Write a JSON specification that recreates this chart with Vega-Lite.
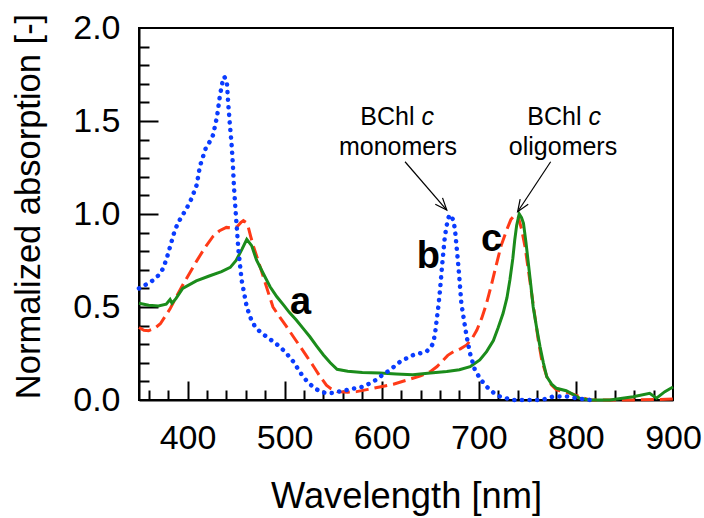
{
  "$schema": "https://vega.github.io/schema/vega-lite/v6.json",
  "width": 534,
  "height": 372,
  "autosize": {"type": "none"},
  "padding": {"left": 139, "top": 28, "right": 31, "bottom": 118},
  "background": "white",
  "config": {
    "view": {"stroke": "black", "strokeWidth": 2},
    "axis": {
      "labelFont": "Liberation Sans",
      "labelFontSize": 34,
      "labelColor": "black",
      "titleFont": "Liberation Sans",
      "titleFontWeight": "normal",
      "titleColor": "black",
      "domainColor": "black",
      "domainWidth": 2,
      "tickColor": "black",
      "tickWidth": 2,
      "grid": false,
      "labelOverlap": false,
      "labelFlush": false
    }
  },
  "datasets": {
    "spectra": [
      {"s":"a","wl":350,"v":0.52},{"s":"a","wl":360,"v":0.51},{"s":"a","wl":370,"v":0.505},{"s":"a","wl":378,"v":0.515},{"s":"a","wl":382,"v":0.54},{"s":"a","wl":384,"v":0.52},{"s":"a","wl":388,"v":0.545},{"s":"a","wl":395,"v":0.6},{"s":"a","wl":409,"v":0.64},{"s":"a","wl":423,"v":0.668},{"s":"a","wl":435,"v":0.69},{"s":"a","wl":444,"v":0.713},{"s":"a","wl":450,"v":0.75},{"s":"a","wl":456,"v":0.81},{"s":"a","wl":461,"v":0.864},{"s":"a","wl":466,"v":0.83},{"s":"a","wl":471,"v":0.753},{"s":"a","wl":478,"v":0.68},{"s":"a","wl":485,"v":0.609},{"s":"a","wl":492,"v":0.555},{"s":"a","wl":499,"v":0.51},{"s":"a","wl":505,"v":0.47},{"s":"a","wl":512,"v":0.43},{"s":"a","wl":519,"v":0.385},{"s":"a","wl":526,"v":0.34},{"s":"a","wl":533,"v":0.29},{"s":"a","wl":540,"v":0.242},{"s":"a","wl":547,"v":0.2},{"s":"a","wl":554,"v":0.165},{"s":"a","wl":565,"v":0.155},{"s":"a","wl":580,"v":0.148},{"s":"a","wl":598,"v":0.145},{"s":"a","wl":615,"v":0.14},{"s":"a","wl":632,"v":0.136},{"s":"a","wl":650,"v":0.145},{"s":"a","wl":667,"v":0.153},{"s":"a","wl":680,"v":0.163},{"s":"a","wl":691,"v":0.179},{"s":"a","wl":701,"v":0.215},{"s":"a","wl":708,"v":0.26},{"s":"a","wl":715,"v":0.32},{"s":"a","wl":720,"v":0.39},{"s":"a","wl":725,"v":0.466},{"s":"a","wl":729,"v":0.55},{"s":"a","wl":732,"v":0.645},{"s":"a","wl":735,"v":0.76},{"s":"a","wl":737,"v":0.86},{"s":"a","wl":739,"v":0.94},{"s":"a","wl":741.6,"v":1.0},{"s":"a","wl":744,"v":0.98},{"s":"a","wl":746,"v":0.95},{"s":"a","wl":748.5,"v":0.85},{"s":"a","wl":751,"v":0.735},{"s":"a","wl":753.5,"v":0.62},{"s":"a","wl":756,"v":0.5},{"s":"a","wl":759.5,"v":0.39},{"s":"a","wl":763,"v":0.287},{"s":"a","wl":766.5,"v":0.2},{"s":"a","wl":770,"v":0.125},{"s":"a","wl":775,"v":0.085},{"s":"a","wl":780,"v":0.063},{"s":"a","wl":790,"v":0.05},{"s":"a","wl":797,"v":0.03},{"s":"a","wl":804,"v":0.009},{"s":"a","wl":814,"v":0},{"s":"a","wl":835,"v":0},{"s":"a","wl":859,"v":0.018},{"s":"a","wl":876,"v":0.036},{"s":"a","wl":883,"v":0.01},{"s":"a","wl":891.6,"v":0.045},{"s":"a","wl":900,"v":0.07},

      {"s":"c","wl":350,"v":0.39},{"s":"c","wl":355,"v":0.375},{"s":"c","wl":360,"v":0.373},{"s":"c","wl":366,"v":0.385},{"s":"c","wl":372,"v":0.41},{"s":"c","wl":377,"v":0.45},{"s":"c","wl":382,"v":0.49},{"s":"c","wl":389,"v":0.56},{"s":"c","wl":396,"v":0.627},{"s":"c","wl":403,"v":0.69},{"s":"c","wl":409,"v":0.744},{"s":"c","wl":418,"v":0.82},{"s":"c","wl":426,"v":0.878},{"s":"c","wl":433,"v":0.91},{"s":"c","wl":440,"v":0.928},{"s":"c","wl":446,"v":0.925},{"s":"c","wl":451,"v":0.932},{"s":"c","wl":455,"v":0.955},{"s":"c","wl":457.5,"v":0.964},{"s":"c","wl":460,"v":0.955},{"s":"c","wl":462.5,"v":0.93},{"s":"c","wl":465,"v":0.88},{"s":"c","wl":468,"v":0.824},{"s":"c","wl":473,"v":0.745},{"s":"c","wl":478,"v":0.663},{"s":"c","wl":483,"v":0.58},{"s":"c","wl":488,"v":0.5},{"s":"c","wl":495,"v":0.445},{"s":"c","wl":502,"v":0.394},{"s":"c","wl":509,"v":0.34},{"s":"c","wl":516,"v":0.287},{"s":"c","wl":523,"v":0.233},{"s":"c","wl":530,"v":0.179},{"s":"c","wl":536,"v":0.13},{"s":"c","wl":543,"v":0.08},{"s":"c","wl":548,"v":0.06},{"s":"c","wl":554,"v":0.045},{"s":"c","wl":565,"v":0.042},{"s":"c","wl":574,"v":0.045},{"s":"c","wl":586,"v":0.057},{"s":"c","wl":598,"v":0.07},{"s":"c","wl":612,"v":0.085},{"s":"c","wl":626,"v":0.107},{"s":"c","wl":640,"v":0.13},{"s":"c","wl":650,"v":0.152},{"s":"c","wl":657,"v":0.18},{"s":"c","wl":663.5,"v":0.215},{"s":"c","wl":668,"v":0.24},{"s":"c","wl":674,"v":0.26},{"s":"c","wl":681,"v":0.275},{"s":"c","wl":687.5,"v":0.296},{"s":"c","wl":693,"v":0.33},{"s":"c","wl":698,"v":0.376},{"s":"c","wl":703,"v":0.44},{"s":"c","wl":708,"v":0.52},{"s":"c","wl":713,"v":0.62},{"s":"c","wl":718.4,"v":0.735},{"s":"c","wl":723,"v":0.83},{"s":"c","wl":728.7,"v":0.914},{"s":"c","wl":733,"v":0.97},{"s":"c","wl":737,"v":0.995},{"s":"c","wl":740.5,"v":0.985},{"s":"c","wl":744,"v":0.92},{"s":"c","wl":747.6,"v":0.824},{"s":"c","wl":751,"v":0.7},{"s":"c","wl":754.4,"v":0.573},{"s":"c","wl":758,"v":0.44},{"s":"c","wl":761.3,"v":0.32},{"s":"c","wl":765,"v":0.21},{"s":"c","wl":770,"v":0.125},{"s":"c","wl":775,"v":0.08},{"s":"c","wl":780,"v":0.054},{"s":"c","wl":787,"v":0.045},{"s":"c","wl":794,"v":0.036},{"s":"c","wl":804,"v":0.018},{"s":"c","wl":814,"v":0},{"s":"c","wl":860,"v":0},{"s":"c","wl":900,"v":0.005},

      {"s":"b","wl":350,"v":0.6},{"s":"b","wl":352.7,"v":0.61},{"s":"b","wl":359,"v":0.625},{"s":"b","wl":364.7,"v":0.645},{"s":"b","wl":370,"v":0.67},{"s":"b","wl":375,"v":0.708},{"s":"b","wl":379,"v":0.77},{"s":"b","wl":382,"v":0.824},{"s":"b","wl":387,"v":0.914},{"s":"b","wl":391,"v":0.96},{"s":"b","wl":395.6,"v":1.0},{"s":"b","wl":400,"v":1.04},{"s":"b","wl":404.3,"v":1.085},{"s":"b","wl":409.4,"v":1.156},{"s":"b","wl":412.8,"v":1.258},{"s":"b","wl":418.7,"v":1.353},{"s":"b","wl":423,"v":1.39},{"s":"b","wl":426.4,"v":1.426},{"s":"b","wl":430.5,"v":1.528},{"s":"b","wl":433.4,"v":1.638},{"s":"b","wl":436,"v":1.71},{"s":"b","wl":437.8,"v":1.738},{"s":"b","wl":440,"v":1.72},{"s":"b","wl":440.6,"v":1.7},{"s":"b","wl":442,"v":1.586},{"s":"b","wl":443.7,"v":1.475},{"s":"b","wl":445.5,"v":1.366},{"s":"b","wl":446.8,"v":1.254},{"s":"b","wl":447.8,"v":1.147},{"s":"b","wl":449.9,"v":0.985},{"s":"b","wl":452.4,"v":0.806},{"s":"b","wl":455.7,"v":0.645},{"s":"b","wl":461,"v":0.5},{"s":"b","wl":465,"v":0.44},{"s":"b","wl":469.5,"v":0.394},{"s":"b","wl":475,"v":0.365},{"s":"b","wl":481.6,"v":0.34},{"s":"b","wl":488,"v":0.315},{"s":"b","wl":495,"v":0.287},{"s":"b","wl":502,"v":0.25},{"s":"b","wl":509,"v":0.206},{"s":"b","wl":514,"v":0.165},{"s":"b","wl":519,"v":0.125},{"s":"b","wl":525,"v":0.09},{"s":"b","wl":531,"v":0.063},{"s":"b","wl":537,"v":0.045},{"s":"b","wl":543,"v":0.036},{"s":"b","wl":550,"v":0.038},{"s":"b","wl":560,"v":0.05},{"s":"b","wl":570,"v":0.06},{"s":"b","wl":581,"v":0.072},{"s":"b","wl":590,"v":0.095},{"s":"b","wl":595,"v":0.111},{"s":"b","wl":602,"v":0.14},{"s":"b","wl":608.5,"v":0.161},{"s":"b","wl":614,"v":0.185},{"s":"b","wl":619,"v":0.206},{"s":"b","wl":626,"v":0.225},{"s":"b","wl":632.5,"v":0.242},{"s":"b","wl":640,"v":0.252},{"s":"b","wl":646,"v":0.26},{"s":"b","wl":650,"v":0.28},{"s":"b","wl":653,"v":0.305},{"s":"b","wl":655,"v":0.36},{"s":"b","wl":656.6,"v":0.43},{"s":"b","wl":658.5,"v":0.51},{"s":"b","wl":660,"v":0.59},{"s":"b","wl":661.5,"v":0.68},{"s":"b","wl":662.7,"v":0.753},{"s":"b","wl":665,"v":0.878},{"s":"b","wl":667,"v":0.94},{"s":"b","wl":668.5,"v":0.977},{"s":"b","wl":670,"v":0.995},{"s":"b","wl":672,"v":0.989},{"s":"b","wl":674,"v":0.96},{"s":"b","wl":675.5,"v":0.914},{"s":"b","wl":677,"v":0.83},{"s":"b","wl":679,"v":0.717},{"s":"b","wl":680.5,"v":0.62},{"s":"b","wl":682,"v":0.52},{"s":"b","wl":685,"v":0.42},{"s":"b","wl":687.5,"v":0.34},{"s":"b","wl":691,"v":0.25},{"s":"b","wl":696,"v":0.161},{"s":"b","wl":702,"v":0.11},{"s":"b","wl":708,"v":0.072},{"s":"b","wl":715,"v":0.04},{"s":"b","wl":722,"v":0.018},{"s":"b","wl":735,"v":0},{"s":"b","wl":765,"v":0},{"s":"b","wl":776,"v":0.018},{"s":"b","wl":790,"v":0.02},{"s":"b","wl":800,"v":0.01},{"s":"b","wl":815,"v":0}
    ],
    "letters": [
      {"t":"a","wl":516.5,"v":0.52},
      {"t":"b","wl":648,"v":0.77},
      {"t":"c","wl":713,"v":0.86}
    ],
    "bchl": [
      {"t":"BChl","wl":636.9,"v":1.478},
      {"t":"BChl","wl":808.9,"v":1.478}
    ],
    "italic": [
      {"t":"c","wl":636.9,"v":1.478},
      {"t":"c","wl":808.9,"v":1.478}
    ],
    "words": [
      {"t":"monomers","wl":616.8,"v":1.317},
      {"t":"oligomers","wl":786.7,"v":1.317}
    ],
    "arrows": [
      {"name":"monomers","wl":624,"v":1.281,"wl2":667,"v2":1.021},
      {"name":"oligomers","wl":774,"v":1.281,"wl2":740,"v2":1.012}
    ]
  },
  "resolve": {"axis": {"x": "independent", "y": "independent"}},
  "layer": [
    {
      "encoding": {
        "x": {
          "field": "wl", "type": "quantitative",
          "scale": {"domain": [350, 900], "nice": false, "zero": false},
          "axis": {
            "orient": "bottom",
            "title": "Wavelength [nm]",
            "titleFontSize": 36.3,
            "values": [400, 500, 600, 700, 800, 900],
            "ticks": false,
            "labelPadding": 21,
            "titlePadding": 23
          }
        },
        "y": {
          "field": "v", "type": "quantitative",
          "scale": {"domain": [0, 2], "nice": false},
          "axis": {
            "orient": "left",
            "title": "Normalized absorption [-]",
            "titleFontSize": 34.5,
            "titleY": 178,
            "values": [0, 0.5, 1.0, 1.5, 2.0],
            "format": ".1f",
            "ticks": false,
            "labelPadding": 19,
            "titlePadding": 26
          }
        }
      },
      "layer": [
        {
          "data": {"name": "spectra"},
          "transform": [{"filter": "datum.s === 'c'"}],
          "mark": {"type": "line", "color": "#ff3a17", "strokeWidth": 3, "strokeDash": [13, 6]}
        },
        {
          "data": {"name": "spectra"},
          "transform": [{"filter": "datum.s === 'a'"}],
          "mark": {"type": "line", "color": "#1b8c1b", "strokeWidth": 3}
        },
        {
          "data": {"name": "spectra"},
          "transform": [{"filter": "datum.s === 'b'"}],
          "mark": {"type": "line", "color": "#0a3cff", "strokeWidth": 4.5, "strokeDash": [0.1, 7.5], "strokeCap": "round"}
        },
        {
          "data": {"name": "letters"},
          "mark": {"type": "text", "font": "Liberation Sans", "fontSize": 38, "fontWeight": "bold", "baseline": "middle", "align": "center", "color": "black"},
          "encoding": {"text": {"field": "t"}}
        },
        {
          "data": {"name": "bchl"},
          "mark": {"type": "text", "font": "Liberation Sans", "fontSize": 25, "baseline": "alphabetic", "align": "right", "dx": -3, "color": "black"},
          "encoding": {"text": {"field": "t"}}
        },
        {
          "data": {"name": "italic"},
          "mark": {"type": "text", "font": "Liberation Sans", "fontSize": 25, "fontStyle": "italic", "baseline": "alphabetic", "align": "left", "dx": 4, "color": "black"},
          "encoding": {"text": {"field": "t"}}
        },
        {
          "data": {"name": "words"},
          "mark": {"type": "text", "font": "Liberation Sans", "fontSize": 25, "baseline": "alphabetic", "align": "center", "color": "black"},
          "encoding": {"text": {"field": "t"}}
        },
        {
          "data": {"name": "arrows"},
          "mark": {"type": "rule", "color": "black", "strokeWidth": 1.2},
          "encoding": {"x2": {"field": "wl2"}, "y2": {"field": "v2"}}
        },
        {
          "data": {"name": "arrows"},
          "transform": [{"filter": "datum.name === 'monomers'"}],
          "mark": {"type": "point", "shape": "M -1 -0.4 L 0 0 L -1 0.4", "size": 576, "angle": 49, "filled": false, "stroke": "black", "strokeWidth": 1.2, "opacity": 1},
          "encoding": {"x": {"field": "wl2", "type": "quantitative"}, "y": {"field": "v2", "type": "quantitative"}}
        },
        {
          "data": {"name": "arrows"},
          "transform": [{"filter": "datum.name === 'oligomers'"}],
          "mark": {"type": "point", "shape": "M -1 -0.4 L 0 0 L -1 0.4", "size": 576, "angle": 123, "filled": false, "stroke": "black", "strokeWidth": 1.2, "opacity": 1},
          "encoding": {"x": {"field": "wl2", "type": "quantitative"}, "y": {"field": "v2", "type": "quantitative"}}
        }
      ]
    },
    {
      "data": {"name": "letters"},
      "mark": {"type": "point", "opacity": 0},
      "encoding": {
        "x": {
          "field": "wl", "type": "quantitative",
          "axis": {
            "orient": "bottom", "title": null, "labels": false, "domain": false,
            "ticks": true, "tickSize": 19, "offset": -19,
            "values": [400, 500, 600, 700, 800]
          }
        },
        "y": {
          "field": "v", "type": "quantitative",
          "axis": {
            "orient": "left", "title": null, "labels": false, "domain": false,
            "ticks": true, "tickSize": 19, "offset": -19,
            "values": [0.5, 1.0, 1.5]
          }
        }
      }
    },
    {
      "data": {"name": "letters"},
      "mark": {"type": "point", "opacity": 0},
      "encoding": {
        "x": {
          "field": "wl", "type": "quantitative",
          "axis": {
            "orient": "bottom", "title": null, "labels": false, "domain": false,
            "ticks": true, "tickSize": 10, "offset": -10,
            "values": [360,380,420,440,460,480,520,540,560,580,620,640,660,680,720,740,760,780,820,840,860,880]
          }
        },
        "y": {
          "field": "v", "type": "quantitative",
          "axis": {
            "orient": "left", "title": null, "labels": false, "domain": false,
            "ticks": true, "tickSize": 10, "offset": -10,
            "values": [0.1,0.2,0.3,0.4,0.6,0.7,0.8,0.9,1.1,1.2,1.3,1.4,1.6,1.7,1.8,1.9]
          }
        }
      }
    }
  ]
}
